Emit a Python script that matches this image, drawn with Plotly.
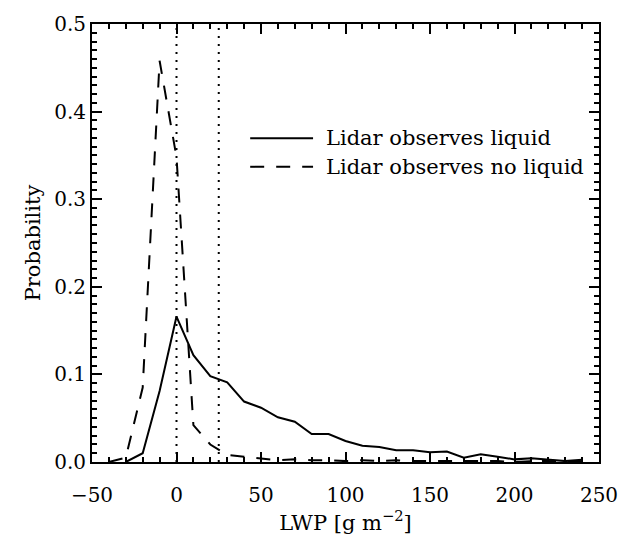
import plotly.graph_objects as go

# ---- data ----
lwp_bins = [-40, -30, -20, -10, 0, 10, 20, 30, 40, 50, 60, 70, 80, 90, 100,
            110, 120, 130, 140, 150, 160, 170, 180, 190, 200, 210, 220, 230, 240]
prob_liquid = [None, 0.0, 0.010, 0.081, 0.166, 0.122, 0.098, 0.091, 0.069, 0.062,
               0.051, 0.046, 0.032, 0.032, 0.024, 0.0185, 0.017, 0.0134, 0.0134,
               0.011, 0.012, 0.005, 0.0087, 0.006, 0.003, 0.0043, 0.003, 0.001, 0.0025]
prob_no_liquid = [0.0, 0.005, 0.085, 0.458, 0.348, 0.042, 0.020, 0.008, 0.006, 0.004,
                  0.002, 0.003, 0.002, 0.002, 0.001, 0.002, 0.001, 0.002, 0.001,
                  0.001, 0.001, 0.0005, 0.001, 0.001, 0.0, 0.001, 0.001, 0.0, 0.001]
ref_lines = [0, 25]
legend_labels = ["Lidar observes liquid", "Lidar observes no liquid"]
x_ticks = [-50, 0, 50, 100, 150, 200, 250]
y_ticks = [0.0, 0.1, 0.2, 0.3, 0.4, 0.5]

FONT = "DejaVu Serif"
FS = 20
FS_TXT = 21

fig = go.Figure()
fig.add_trace(go.Scatter(x=lwp_bins, y=prob_liquid, mode="lines",
                         line=dict(color="black", width=2), name=legend_labels[0]))
fig.add_trace(go.Scatter(x=lwp_bins, y=prob_no_liquid, mode="lines",
                         line=dict(color="black", width=2, dash="14px,12px"),
                         name=legend_labels[1]))

for xv in ref_lines:
    fig.add_shape(type="line", xref="x", yref="paper", x0=xv, x1=xv, y0=0, y1=1,
                  line=dict(color="black", width=2, dash="2px,6px"))

# manual legend (IDL style)
leg_rows = [0.739, 0.674]
leg_dash = ["solid", "14px,12px"]
for i, lab in enumerate(legend_labels):
    fig.add_shape(type="line", xref="paper", yref="paper", x0=0.312, x1=0.436,
                  y0=leg_rows[i], y1=leg_rows[i],
                  line=dict(color="black", width=2, dash=leg_dash[i]))
    fig.add_annotation(xref="paper", yref="paper", x=0.458, y=leg_rows[i],
                       text=lab, showarrow=False, xanchor="left", yanchor="middle",
                       font=dict(family=FONT, size=FS_TXT, color="black"))

axis_common = dict(showline=True, linecolor="black", linewidth=2, mirror="ticks",
                   ticks="inside", tickcolor="black", tickwidth=1.5, ticklen=10,
                   showgrid=False, zeroline=False,
                   tickfont=dict(family=FONT, size=FS, color="black"))

fig.update_xaxes(range=[-50, 250], tickvals=x_ticks,
                 minor=dict(dtick=10, ticks="inside", ticklen=5, tickcolor="black",
                            tickwidth=1.5, showgrid=False),
                 title=dict(text="LWP [g m<sup>−2</sup>]", standoff=6,
                            font=dict(family=FONT, size=FS_TXT, color="black")),
                 ticklabelstandoff=14, **axis_common)
fig.update_yaxes(range=[0, 0.5], tickvals=y_ticks, tickformat=".1f",
                 minor=dict(dtick=0.01, ticks="inside", ticklen=5, tickcolor="black",
                            tickwidth=1.5, showgrid=False),
                 title=dict(text="Probability", standoff=8,
                            font=dict(family=FONT, size=FS_TXT, color="black")),
                 ticklabelstandoff=0, **axis_common)

fig.update_layout(width=630, height=540, showlegend=False,
                  margin=dict(l=92, r=31, t=13, b=67, pad=0),
                  paper_bgcolor="white", plot_bgcolor="white",
                  font=dict(family=FONT, size=FS, color="black"))

fig.write_html("out.html")
